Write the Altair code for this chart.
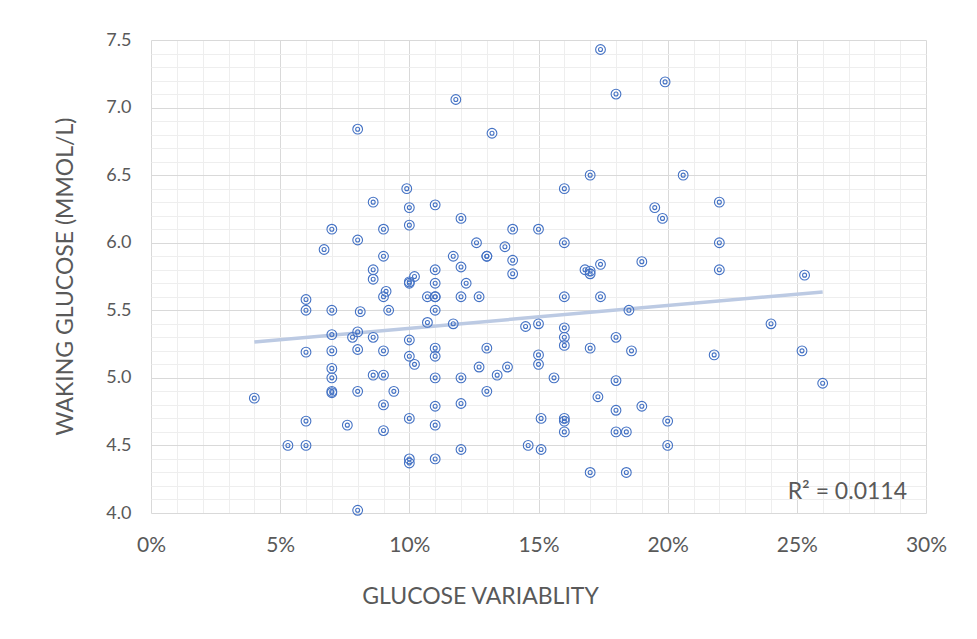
import altair as alt
import pandas as pd

# Glucose variability (%) and waking glucose (mmol/L)
variability_pct = [
    4.0, 5.3, 6.0, 6.0, 6.0, 6.0, 6.0, 6.7, 7.0, 7.0,
    7.0, 7.0, 7.0, 7.0, 7.0, 7.0, 7.6, 7.8, 8.0, 8.0,
    8.0, 8.0, 8.0, 8.0, 8.1, 8.6, 8.6, 8.6, 8.6, 8.6,
    9.0, 9.0, 9.0, 9.1, 9.2, 9.0, 9.0, 9.0, 9.0, 9.4,
    9.9, 10.0, 10.0, 10.0, 10.0, 10.0, 10.0, 10.0, 10.0, 10.0,
    10.2, 10.2, 10.7, 10.7, 11.0, 11.0, 11.0, 11.0, 11.0, 11.0,
    11.0, 11.0, 11.0, 11.0, 11.0, 11.0, 11.7, 11.7, 11.8, 12.0,
    12.0, 12.0, 12.0, 12.0, 12.0, 12.2, 12.6, 12.7, 12.7, 13.0,
    13.0, 13.0, 13.0, 13.2, 13.4, 13.7, 13.8, 14.0, 14.0, 14.0,
    14.5, 14.6, 15.0, 15.0, 15.0, 15.0, 15.1, 15.1, 15.6, 16.0,
    16.0, 16.0, 16.0, 16.0, 16.0, 16.0, 16.0, 16.0, 16.8, 17.0,
    17.0, 17.0, 17.0, 17.0, 17.3, 17.4, 17.4, 17.4, 18.0, 18.0,
    18.0, 18.0, 18.0, 18.4, 18.4, 18.5, 18.6, 19.0, 19.0, 19.5,
    19.8, 19.9, 20.0, 20.0, 20.6, 21.8, 22.0, 22.0, 22.0, 24.0,
    25.2, 25.3, 26.0,
]
waking_glucose = [
    4.85, 4.50, 5.58, 5.50, 5.19, 4.68, 4.50, 5.95, 6.10, 5.50,
    5.32, 5.20, 5.07, 5.00, 4.90, 4.89, 4.65, 5.30, 6.84, 6.02,
    5.34, 5.21, 4.90, 4.02, 5.49, 6.30, 5.80, 5.73, 5.30, 5.02,
    6.10, 5.90, 5.60, 5.64, 5.50, 5.20, 5.02, 4.80, 4.61, 4.90,
    6.40, 6.26, 6.13, 5.71, 5.70, 5.28, 5.16, 4.70, 4.40, 4.37,
    5.75, 5.10, 5.60, 5.41, 6.28, 5.80, 5.70, 5.60, 5.60, 5.50,
    5.22, 5.16, 5.00, 4.79, 4.65, 4.40, 5.90, 5.40, 7.06, 6.18,
    5.82, 5.60, 5.00, 4.81, 4.47, 5.70, 6.00, 5.60, 5.08, 5.90,
    5.90, 5.22, 4.90, 6.81, 5.02, 5.97, 5.08, 6.10, 5.87, 5.77,
    5.38, 4.50, 6.10, 5.40, 5.17, 5.10, 4.70, 4.47, 5.00, 6.40,
    6.00, 5.60, 5.37, 5.30, 5.24, 4.70, 4.68, 4.60, 5.80, 6.50,
    5.79, 5.77, 5.22, 4.30, 4.86, 7.43, 5.84, 5.60, 7.10, 5.30,
    4.98, 4.76, 4.60, 4.60, 4.30, 5.50, 5.20, 5.86, 4.79, 6.26,
    6.18, 7.19, 4.68, 4.50, 6.50, 5.17, 6.30, 6.00, 5.80, 5.40,
    5.20, 5.76, 4.96,
]

x_major = [0.0, 0.05, 0.10, 0.15, 0.20, 0.25, 0.30]
y_major = [4.0, 4.5, 5.0, 5.5, 6.0, 6.5, 7.0, 7.5]
x_minor = [i / 100 for i in range(31) if i % 5]
y_minor = [round(4 + i / 10, 1) for i in range(36) if i % 5]

x_title = "GLUCOSE VARIABLITY"
y_title = "WAKING GLUCOSE (MMOL/L)"
r2_label = ["R² = 0.0114"]

df = pd.DataFrame({"x": [v / 100 for v in variability_pct], "y": waking_glucose})

FONT = "Lato"
TEXT = "#595959"
POINT = "#4472C4"

xs = alt.Scale(domain=[0, 0.30], nice=False, zero=False)
ys = alt.Scale(domain=[4.0, 7.5], nice=False, zero=False)

base = alt.Chart(df)

trend = base.transform_regression("x", "y").mark_line(
    color="#bccae3", strokeWidth=3.5
).encode(
    x=alt.X("x:Q", scale=xs, axis=None),
    y=alt.Y("y:Q", scale=ys, axis=None),
)

outer = base.mark_point(
    shape="circle", filled=False, size=95, stroke=POINT, strokeWidth=1.1, opacity=1
).encode(
    x=alt.X(
        "x:Q", scale=xs,
        axis=alt.Axis(
            orient="bottom", values=x_major, format=".0%", grid=True,
            gridColor="#d9d9d9", gridWidth=1, domain=False, ticks=False,
            labelFont=FONT, labelFontSize=21, labelColor=TEXT,
            labelPadding=38, labelBaseline="alphabetic", labelFlush=False,
            labelAlign="center",
            title=x_title, titleFont=FONT, titleFontSize=23,
            titleFontWeight="normal", titleColor=TEXT,
            titleX=329, titleY=90, titleAlign="center",
            titleBaseline="alphabetic",
        ),
    ),
    y=alt.Y(
        "y:Q", scale=ys,
        axis=alt.Axis(
            orient="left", values=y_major, format=".1f", grid=True,
            gridColor="#d9d9d9", gridWidth=1, domain=False, ticks=False,
            labelFont=FONT, labelFontSize=18, labelColor=TEXT,
            labelPadding=20, labelAlign="right", labelBaseline="middle",
            labelFlush=False,
            title=y_title, titleFont=FONT, titleFontSize=23,
            titleFontWeight="normal", titleColor=TEXT, titleAngle=270,
            titleX=-79, titleY=236, titleAlign="center",
            titleBaseline="alphabetic",
        ),
    ),
)

inner = base.mark_point(
    shape="circle", filled=False, size=16, stroke=POINT, strokeWidth=1.1, opacity=1
).encode(
    x=alt.X(
        "x:Q", scale=xs,
        axis=alt.Axis(
            values=x_minor, grid=True, gridColor="#eeeeee", gridWidth=1,
            labels=False, ticks=False, domain=False, title=None,
        ),
    ),
    y=alt.Y(
        "y:Q", scale=ys,
        axis=alt.Axis(
            values=y_minor, grid=True, gridColor="#eeeeee", gridWidth=1,
            labels=False, ticks=False, domain=False, title=None,
        ),
    ),
)

r2 = alt.Chart(pd.DataFrame({"label": r2_label})).mark_text(
    align="right", baseline="alphabetic", font=FONT, fontSize=23, color=TEXT
).encode(
    x=alt.value(756), y=alt.value(459), text="label:N"
)

chart = (
    alt.layer(trend, outer, inner, r2)
    .resolve_axis(x="independent", y="independent")
    .properties(
        width=775,
        height=473,
        autosize=alt.AutoSizeParams(type="none"),
        padding={"left": 143, "top": 32, "right": 43, "bottom": 118},
        background="white",
    )
    .configure_view(strokeWidth=0)
)

chart.save("out.html", embed_options={"renderer": "svg", "actions": False})
